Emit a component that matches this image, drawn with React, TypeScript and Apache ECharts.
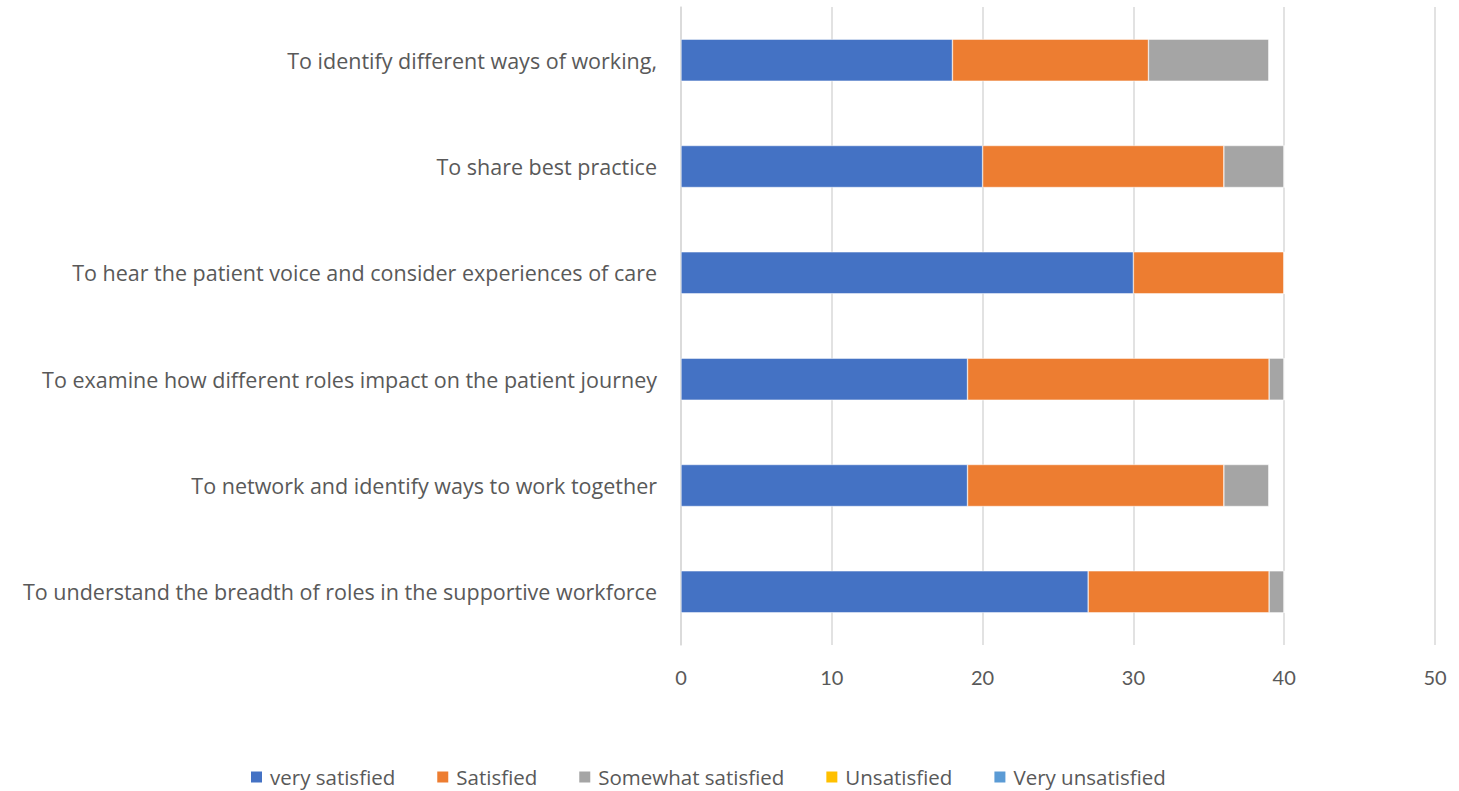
import React, { useEffect, useRef } from "react";
import * as echarts from "echarts";

const categories = [
  "To understand the breadth of roles in the supportive workforce",
  "To network and identify ways to work together",
  "To examine how different roles impact on the patient journey",
  "To hear the patient voice and consider experiences of care",
  "To share best practice",
  "To identify different ways of working,",
];
const verySatisfied = [27, 19, 19, 30, 20, 18];
const satisfied = [12, 17, 20, 10, 16, 13];
const somewhatSatisfied = [1, 3, 1, 0, 4, 8];
const unsatisfied = [0, 0, 0, 0, 0, 0];
const veryUnsatisfied = [0, 0, 0, 0, 0, 0];
const seriesNames = ["very satisfied", "Satisfied", "Somewhat satisfied", "Unsatisfied", "Very unsatisfied"];
const seriesColors = ["#4472C4", "#ED7D31", "#A5A5A5", "#FFC000", "#5B9BD5"];
const xTicks = { min: 0, max: 50, interval: 10 };

export default function App() {
  const ref = useRef<HTMLDivElement>(null);
  useEffect(() => {
    if (!ref.current) return;
    const chart = echarts.init(ref.current, null, { renderer: "svg" });
    const data = [verySatisfied, satisfied, somewhatSatisfied, unsatisfied, veryUnsatisfied];
    const font = "'Open Sans', sans-serif";
    const tickFont = "Lato, sans-serif";
    chart.setOption({
      animation: false,
      textStyle: { fontFamily: font },
      grid: { left: 681, right: 24, top: 7, bottom: 146, containLabel: false },
      legend: {
        top: 764,
        left: 249,
        itemWidth: 13,
        itemHeight: 13,
        itemGap: 40,
        icon: "rect",
        padding: 0,
        textStyle: { color: "#595959", fontSize: 20.5, fontFamily: font, lineHeight: 26, padding: [0, 0, 0, 2] },
        data: seriesNames,
      },
      xAxis: {
        type: "value",
        min: xTicks.min,
        max: xTicks.max,
        interval: xTicks.interval,
        axisLine: { show: false },
        axisTick: { show: false },
        axisLabel: { color: "#595959", fontSize: 20, margin: 22, fontFamily: tickFont },
        splitLine: { show: true, lineStyle: { color: "#D9D9D9", width: 1.5 } },
      },
      yAxis: {
        type: "category",
        data: categories,
        axisLine: { show: true, lineStyle: { color: "#D9D9D9", width: 1.5 } },
        axisTick: { show: false },
        axisLabel: { color: "#595959", fontSize: 21.5, margin: 24, fontFamily: font },
      },
      series: seriesNames.map((name, i) => ({
        name,
        type: "bar",
        stack: "total",
        barWidth: 42,
        data: data[i],
        itemStyle: { color: seriesColors[i], borderColor: "#ffffff", borderWidth: 0.5 },
      })),
    });
    return () => chart.dispose();
  }, []);
  return (
    <div
      ref={ref}
      style={{ position: "absolute", left: 0, top: 0, width: 1459, height: 791, background: "#ffffff" }}
    />
  );
}
